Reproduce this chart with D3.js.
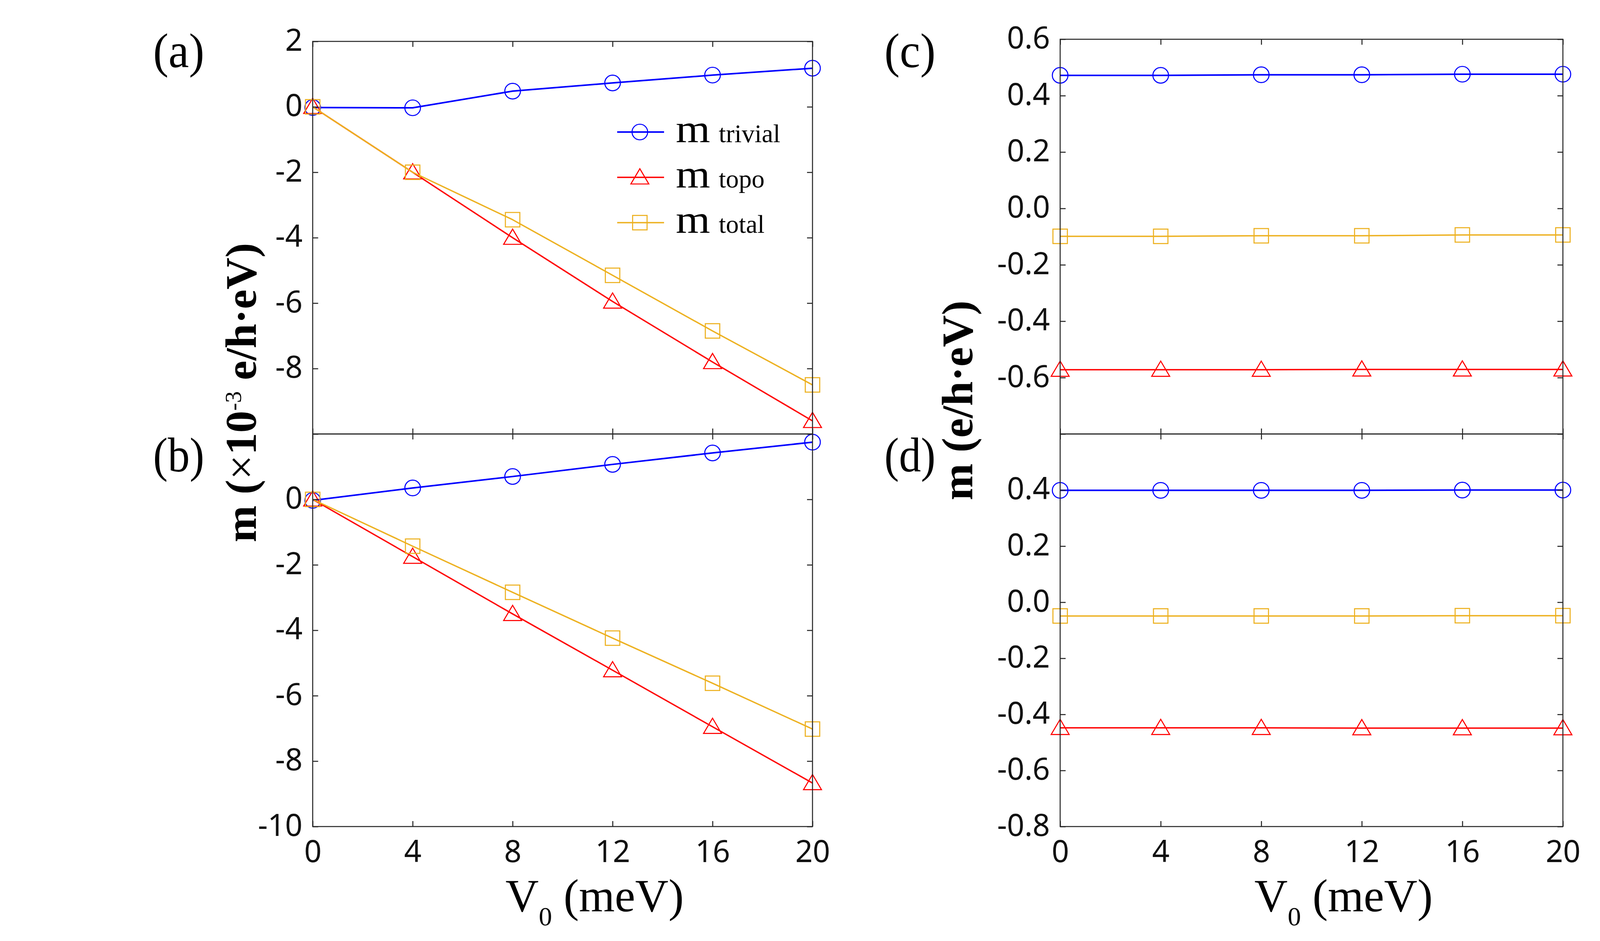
<!DOCTYPE html>
<html><head><meta charset="utf-8">
<script src="https://cdn.jsdelivr.net/npm/d3@7"></script>
<style>body{margin:0;background:#fff}</style>
</head><body>
<svg id="chart" width="4500" height="2409" xmlns="http://www.w3.org/2000/svg"></svg>
<script>
// ---------------- data ----------------
const V0 = [0, 4, 8, 12, 16, 20];
const xTicks = [0, 4, 8, 12, 16, 20];

const aTrivial = [-0.02, -0.03, 0.48, 0.73, 0.97, 1.18];
const aTopo    = [0, -2.00, -4.00, -5.95, -7.80, -9.60];
const aTotal   = [0, -2.00, -3.45, -5.15, -6.85, -8.50];

const bTrivial = [-0.03, 0.35, 0.70, 1.07, 1.42, 1.75];
const bTopo    = [0, -1.75, -3.50, -5.22, -6.95, -8.67];
const bTotal   = [0, -1.43, -2.84, -4.24, -5.62, -7.02];

const cTrivial = [0.472, 0.472, 0.474, 0.474, 0.476, 0.476];
const cTopo    = [-0.572, -0.572, -0.572, -0.571, -0.571, -0.571];
const cTotal   = [-0.099, -0.099, -0.097, -0.097, -0.094, -0.094];

const dTrivial = [0.399, 0.399, 0.399, 0.399, 0.400, 0.400];
const dTopo    = [-0.448, -0.448, -0.448, -0.449, -0.449, -0.449];
const dTotal   = [-0.049, -0.049, -0.049, -0.049, -0.048, -0.048];

const abYTicks  = [2, 0, -2, -4, -6, -8, -10];
const aYLabels  = [2, 0, -2, -4, -6, -8];
const bYLabels  = [0, -2, -4, -6, -8, -10];
const cdYTicks  = [0.6, 0.4, 0.2, 0.0, -0.2, -0.4, -0.6, -0.8];
const cYLabels  = [0.6, 0.4, 0.2, 0.0, -0.2, -0.4, -0.6];
const dYLabels  = [0.4, 0.2, 0.0, -0.2, -0.4, -0.6, -0.8];

const seriesNames = ["trivial", "topo", "total"];
const panelLabels = ["(a)", "(b)", "(c)", "(d)"];

// ---------------- styles ----------------
const COLORS = {trivial: "#0000ff", topo: "#ff0000", total: "#edb120"};
const WIDTHS = {trivial: 4, topo: 3.5, total: 3.5};
const MARK = {trivial: "circle", topo: "triangle", total: "square"};
const AXIS_COLOR = "#262626";
const TICK_FONT = "'Noto Sans', 'Open Sans', sans-serif";
const SERIF = "'Liberation Serif', 'Times New Roman', serif";

const svg = d3.select("#chart");
svg.append("rect").attr("width", 4500).attr("height", 2409).attr("fill", "#fff");

function drawMarker(g, type, cx, cy, color) {
  const sw = 2.7;
  if (type === "circle") {
    g.append("circle").attr("cx", cx).attr("cy", cy).attr("r", 20)
      .attr("fill", "none").attr("stroke", color).attr("stroke-width", sw);
  } else if (type === "square") {
    g.append("rect").attr("x", cx - 18.5).attr("y", cy - 18.5)
      .attr("width", 37).attr("height", 37)
      .attr("fill", "none").attr("stroke", color).attr("stroke-width", sw);
  } else {
    const p = d3.path();
    p.moveTo(cx, cy - 22); p.lineTo(cx + 23, cy + 17); p.lineTo(cx - 23, cy + 17); p.closePath();
    g.append("path").attr("d", p.toString())
      .attr("fill", "none").attr("stroke", color).attr("stroke-width", sw);
  }
}

const panels = [
  {key: "a", x0: 800.5, x1: 2080, y0: 106, y1: 1111, dom: [-10, 2], ticks: abYTicks, labels: aYLabels,
   fmt: d => String(d), data: {trivial: aTrivial, topo: aTopo, total: aTotal}, xLabels: false,
   label: panelLabels[0], lx: 392, ly: 172},
  {key: "b", x0: 800.5, x1: 2080, y0: 1111, y1: 2116, dom: [-10, 2], ticks: abYTicks, labels: bYLabels,
   fmt: d => String(d), data: {trivial: bTrivial, topo: bTopo, total: bTotal}, xLabels: true,
   label: panelLabels[1], lx: 392, ly: 1207},
  {key: "c", x0: 2714, x1: 4001, y0: 100.5, y1: 1111, dom: [-0.8, 0.6], ticks: cdYTicks, labels: cYLabels,
   fmt: d => d.toFixed(1), data: {trivial: cTrivial, topo: cTopo, total: cTotal}, xLabels: false,
   label: panelLabels[2], lx: 2264, ly: 172},
  {key: "d", x0: 2714, x1: 4001, y0: 1111, y1: 2116, dom: [-0.8, 0.6], ticks: cdYTicks, labels: dYLabels,
   fmt: d => d.toFixed(1), data: {trivial: dTrivial, topo: dTopo, total: dTotal}, xLabels: true,
   label: panelLabels[3], lx: 2264, ly: 1207},
];

function styleAxis(g, showLabels) {
  g.select(".domain").remove();
  g.selectAll(".tick line").attr("stroke", AXIS_COLOR).attr("stroke-width", 2.6);
  g.selectAll(".tick text").attr("font-family", TICK_FONT).attr("font-size", 78)
    .attr("fill", "#111");
  if (!showLabels) g.selectAll(".tick text").remove();
}

panels.forEach(p => {
  const x = d3.scaleLinear().domain([0, 20]).range([p.x0, p.x1]);
  const y = d3.scaleLinear().domain(p.dom).range([p.y1, p.y0]);
  const g = svg.append("g");

  // series
  seriesNames.forEach(s => {
    const vals = p.data[s];
    const pts = V0.map((v, i) => [x(v), y(vals[i])]);
    const line = d3.line();
    g.append("path").attr("d", line(pts)).attr("fill", "none")
      .attr("stroke", COLORS[s]).attr("stroke-width", WIDTHS[s]).attr("stroke-linejoin", "round");
    pts.forEach(pt => drawMarker(g, MARK[s], pt[0], pt[1], COLORS[s]));
  });

  // axes (inward ticks on all four sides)
  const labelSet = new Set(p.labels.map(v => v.toFixed(3)));
  const left = d3.axisLeft(y).tickValues(p.ticks).tickSize(-14).tickSizeOuter(0).tickPadding(26)
    .tickFormat(d => labelSet.has(d.toFixed(3)) ? p.fmt(d) : "");
  const gl = g.append("g").attr("transform", `translate(${p.x0},0)`).call(left);
  styleAxis(gl, true);
  gl.selectAll(".tick text").attr("dy", "0.30em");

  const right = d3.axisRight(y).tickValues(p.ticks).tickSize(-14).tickSizeOuter(0);
  styleAxis(g.append("g").attr("transform", `translate(${p.x1},0)`).call(right), false);

  const top = d3.axisTop(x).tickValues(xTicks).tickSize(-14).tickSizeOuter(0);
  styleAxis(g.append("g").attr("transform", `translate(0,${p.y0})`).call(top), false);

  const bottom = d3.axisBottom(x).tickValues(xTicks).tickSize(-14).tickSizeOuter(0).tickPadding(36)
    .tickFormat(d => String(d));
  const gb = g.append("g").attr("transform", `translate(0,${p.y1})`).call(bottom);
  styleAxis(gb, p.xLabels);

  // box
  g.append("rect").attr("x", p.x0).attr("y", p.y0)
    .attr("width", p.x1 - p.x0).attr("height", p.y1 - p.y0)
    .attr("fill", "none").attr("stroke", AXIS_COLOR).attr("stroke-width", 2.6);

  // panel label
  svg.append("text").attr("x", p.lx).attr("y", p.ly)
    .attr("font-family", SERIF).attr("font-size", 125)
    .attr("textLength", 131).attr("lengthAdjust", "spacingAndGlyphs")
    .text(p.label);

  // x axis title
  if (p.xLabels) {
    const t = svg.append("text").attr("x", (p.x0 + p.x1) / 2 + 82).attr("y", 2333)
      .attr("text-anchor", "middle").attr("font-family", SERIF).attr("font-size", 118);
    t.append("tspan").text("V");
    t.append("tspan").attr("font-size", 68).attr("dy", 36).text("0");
    t.append("tspan").attr("dy", -36).text(" (meV)");
  }

  // legend in (a)
  if (p.key === "a") {
    const lg = svg.append("g");
    const rowsY = [338, 454, 570];
    seriesNames.forEach((s, i) => {
      const yy = rowsY[i];
      lg.append("line").attr("x1", 1580).attr("x2", 1700).attr("y1", yy).attr("y2", yy)
        .attr("stroke", COLORS[s]).attr("stroke-width", WIDTHS[s]);
      drawMarker(lg, MARK[s], 1638, yy, COLORS[s]);
      lg.append("text").attr("x", 1730).attr("y", yy + 26)
        .attr("font-family", SERIF).attr("font-size", 102)
        .attr("textLength", 88).attr("lengthAdjust", "spacingAndGlyphs").text("m");
      lg.append("text").attr("x", 1840).attr("y", yy + 26)
        .attr("font-family", SERIF).attr("font-size", 66).text(s);
    });
  }
});

// y axis titles
const yl = svg.append("text").attr("transform", "translate(655,1005) rotate(-90)")
  .attr("text-anchor", "middle").attr("font-family", SERIF).attr("font-size", 113)
  .attr("font-weight", "bold");
yl.append("tspan").text("m (");
yl.append("tspan").attr("font-weight", "normal").text("×");
yl.append("tspan").text("10");
yl.append("tspan").attr("font-size", 60).attr("font-weight", "normal").attr("dy", -38).text("-3");
yl.append("tspan").attr("dy", 38).text(" e/h·eV)");

svg.append("text").attr("transform", "translate(2489,1025) rotate(-90)")
  .attr("text-anchor", "middle").attr("font-family", SERIF).attr("font-size", 113)
  .attr("font-weight", "bold").text("m (e/h·eV)");
</script>
</body></html>
